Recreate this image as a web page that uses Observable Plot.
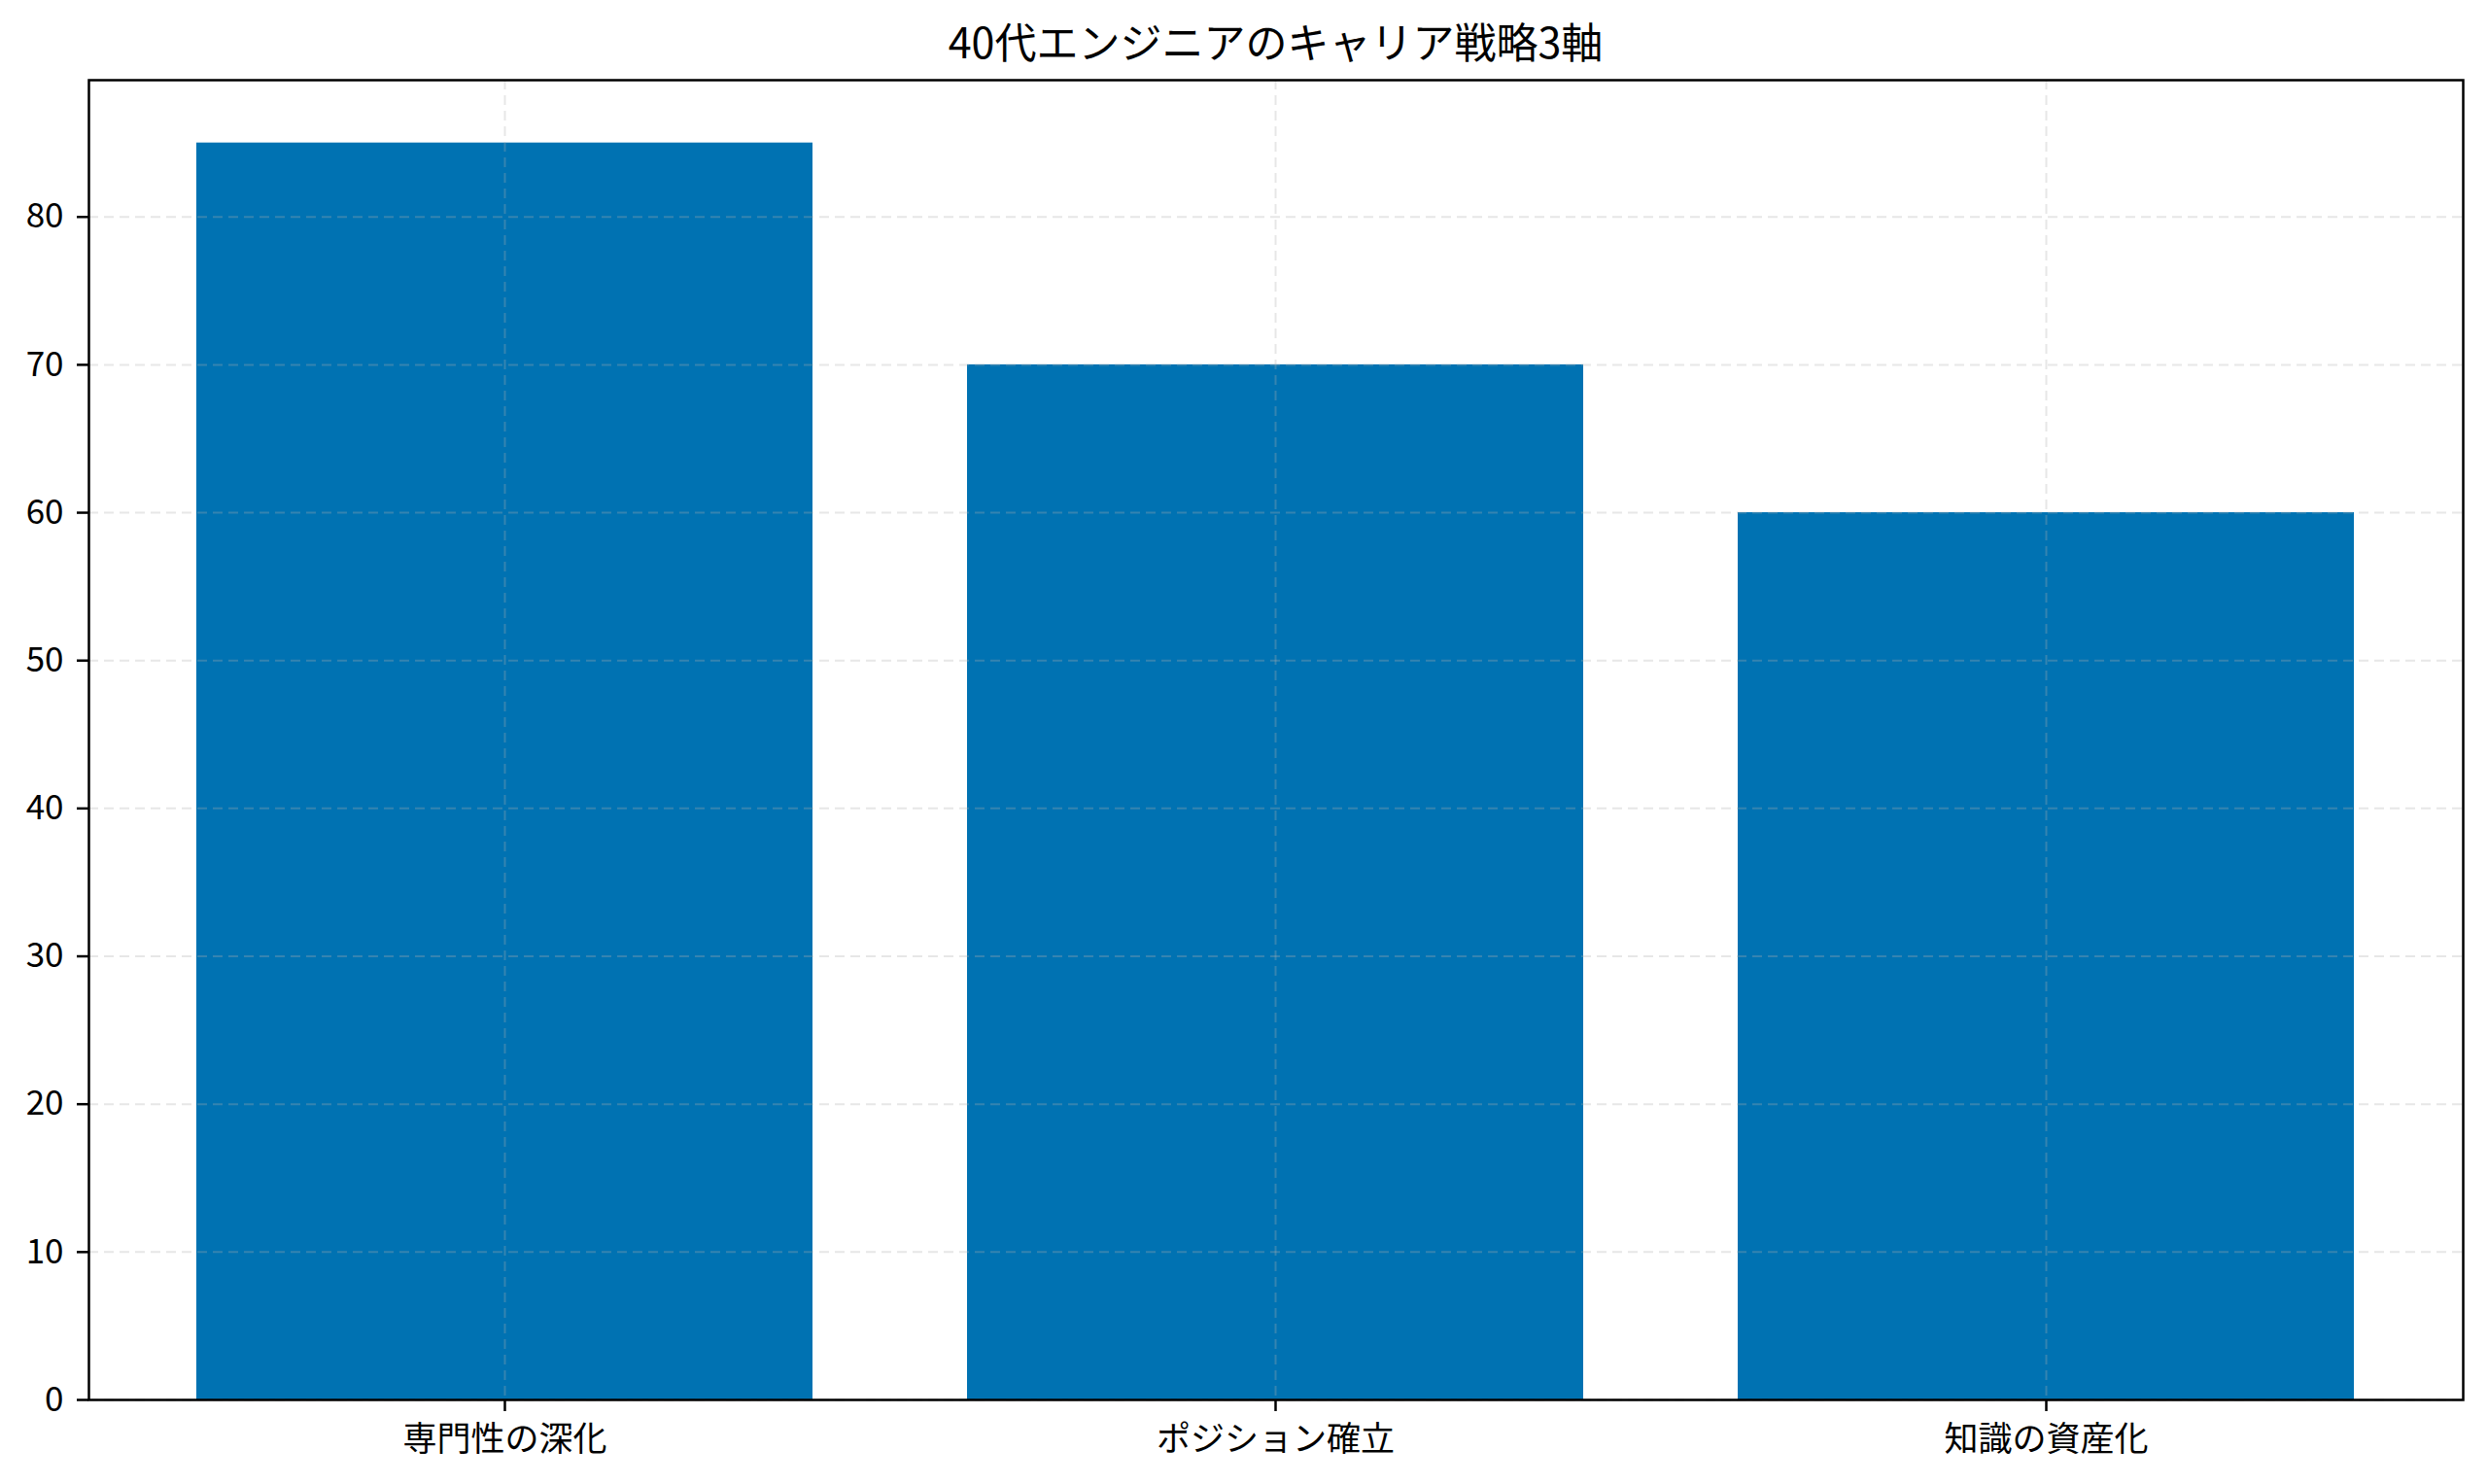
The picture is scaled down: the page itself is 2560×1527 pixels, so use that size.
<!DOCTYPE html>
<html>
<head>
<meta charset="utf-8">
<script src="https://cdn.jsdelivr.net/npm/d3@7"></script>
<script src="https://cdn.jsdelivr.net/npm/@observablehq/plot@0.6"></script>
<style>
  html, body { margin: 0; padding: 0; background: #fff; }
  #title {
    box-sizing: border-box;
    height: 70px;
    padding: 20px 26px 0 91px;
    text-align: center;
    font-family: "Noto Sans CJK JP", sans-serif;
    font-size: 43px;
    line-height: 1;
    color: #000;
    white-space: nowrap;
  }
</style>
</head>
<body>
<div id="title">40代エンジニアのキャリア戦略3軸</div>
<div id="chart"></div>
<script>
const title = "40代エンジニアのキャリア戦略3軸";
const categories = ["専門性の深化", "ポジション確立", "知識の資産化"];
const values = [85, 70, 60];
const yTicks = [0, 10, 20, 30, 40, 50, 60, 70, 80];

document.getElementById("title").textContent = title;
const data = categories.map((c, i) => ({category: c, value: values[i]}));

const font = "'Noto Sans CJK JP', sans-serif";
const gridStyle = {stroke: "#b0b0b0", strokeOpacity: 0.3, strokeWidth: 2, strokeDasharray: "10,6"};

const chart = Plot.plot({
  width: 2560,
  height: 1457,
  marginTop: 12,
  marginBottom: 87,
  marginLeft: 91,
  marginRight: 26,
  style: {fontFamily: font, fontSize: "35px", color: "#000", background: "#fff"},
  x: {domain: categories, paddingInner: 0.2, paddingOuter: 0.14, align: 0.5, label: null},
  y: {domain: [0, d3.max(values) * 1.05], label: null},
  marks: [
    Plot.barY(data, {x: "category", y: "value", fill: "#0072b2"}),
    Plot.gridY(yTicks, gridStyle),
    Plot.gridX(categories, gridStyle),
    Plot.axisY(yTicks, {tickSize: 12, tickPadding: 14, strokeWidth: 2.5, stroke: "#000", fontSize: 35, label: null}),
    Plot.axisX(categories, {tickSize: 12, tickPadding: 16, strokeWidth: 2.5, stroke: "#000", fontSize: 35, label: null}),
    Plot.frame({stroke: "#000", strokeWidth: 2.5})
  ]
});
document.getElementById("chart").appendChild(chart);
</script>
</body>
</html>
